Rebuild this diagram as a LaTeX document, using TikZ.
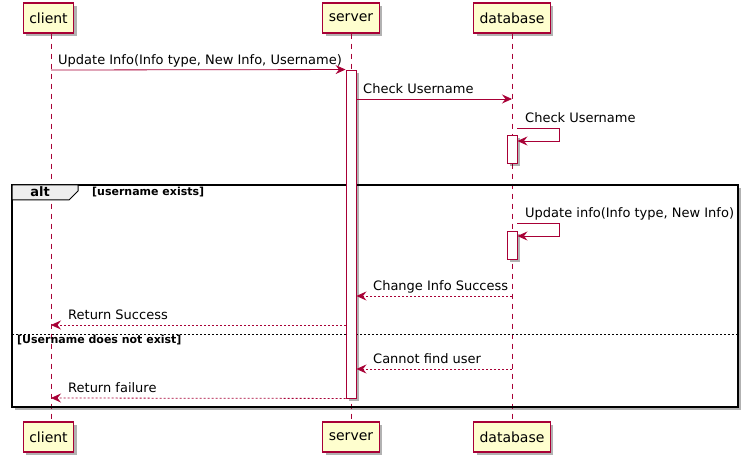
\documentclass[tikz,border=0pt]{standalone}
\usepackage{fontspec}
\setmainfont{DejaVu Sans}
\usetikzlibrary{arrows.meta,shadows}
\definecolor{umlred}{HTML}{A80036}
\definecolor{umlfill}{HTML}{FEFECE}
\definecolor{tabgray}{HTML}{EEEEEE}
\tikzset{
  shad/.style={drop shadow={shadow xshift=3pt,shadow yshift=-3pt,opacity=0.3,fill=black}},
  part/.style={draw=umlred,fill=umlfill,line width=1.1pt,minimum height=30pt,inner xsep=6pt,inner ysep=0pt,font=\fontsize{14}{16}\selectfont,shad},
  act/.style={draw=umlred,fill=white,line width=0.9pt,minimum width=10pt,inner sep=0pt,shad},
  life/.style={umlred,line width=0.8pt,dash pattern=on 5pt off 5pt},
  msg/.style={umlred,line width=0.8pt,-{Stealth[length=10pt,width=9pt,inset=3.5pt]}},
  ret/.style={msg,dash pattern=on 2pt off 2pt},
  lbl/.style={anchor=base west,inner sep=0pt,font=\fontsize{13}{15}\selectfont},
  guard/.style={anchor=base west,inner sep=0pt,font=\fontsize{11}{13}\selectfont\bfseries}
}
\begin{document}
\begin{tikzpicture}[x=1pt,y=-1pt,line cap=butt,line join=miter]
\useasboundingbox (0,0) rectangle (748,462);
% alt frame
\draw[black,fill=white,line width=1.6pt,shad] (12,185) rectangle (738,407);
% participants
\node[part] (client) at (48.5,18) {client};
\node[part] (server) at (351,18) {server};
\node[part] (database) at (512,18) {database};
\node[part] (clientb) at (48.5,437) {client};
\node[part] (serverb) at (351,437) {server};
\node[part] (databaseb) at (512,437) {database};
\draw[life] (client.south -| 51,0) -- (clientb.north -| 51,0);
\draw[life] (server) -- (serverb);
\draw[life] (database) -- (databaseb);
\draw[black,line width=1.6pt] (12,185) rectangle (738,407);
\filldraw[fill=tabgray,draw=black,line width=1pt] (12,185) -- (78,185) -- (78,191) -- (69,200) -- (12,200) -- cycle;
\node[anchor=base,inner sep=0pt,font=\fontsize{13}{15}\selectfont\bfseries] (altlbl) at (40,197) {alt};
\node[guard] (g1) at (92,196) {[username exists]};
\draw[black,line width=0.7pt,dash pattern=on 2pt off 2pt] (12,334) -- (738,334);
\node[guard] (g2) at (17,344) {[Username does not exist]};
% activations
\node[act,minimum height=328pt] (sa) at (351,234) {};
\node[act,minimum height=28pt] (da1) at (512,149) {};
\node[act,minimum height=28pt] (da2) at (512,245) {};
% messages
\draw[msg] (51,70) -- (sa.north west);
\node[lbl] (m1) at (58,65) {Update Info(Info type, New Info, Username)};
\draw[msg] (sa.east |- 0,99) -- (database |- 0,99);
\node[lbl] (m2) at (363,94) {Check Username};
\draw[msg] (517,128) -- (559,128) -- (559,141) -- (da1.east |- 0,141);
\node[lbl] (m3) at (525,123) {Check Username};
\draw[msg] (517,223) -- (559,223) -- (559,236) -- (da2.east |- 0,236);
\node[lbl] (m4) at (525,218) {Update info(Info type, New Info)};
\draw[ret] (database |- 0,296) -- (sa.east |- 0,296);
\node[lbl] (m5) at (373,291) {Change Info Success};
\draw[ret] (sa.west |- 0,325) -- (51,325);
\node[lbl] (m6) at (68,320) {Return Success};
\draw[ret] (database |- 0,369) -- (sa.east |- 0,369);
\node[lbl] (m7) at (373,364) {Cannot find user};
\draw[ret] (sa.south west) -- (51,398);
\node[lbl] (m8) at (68,393) {Return failure};
\end{tikzpicture}
\end{document}
